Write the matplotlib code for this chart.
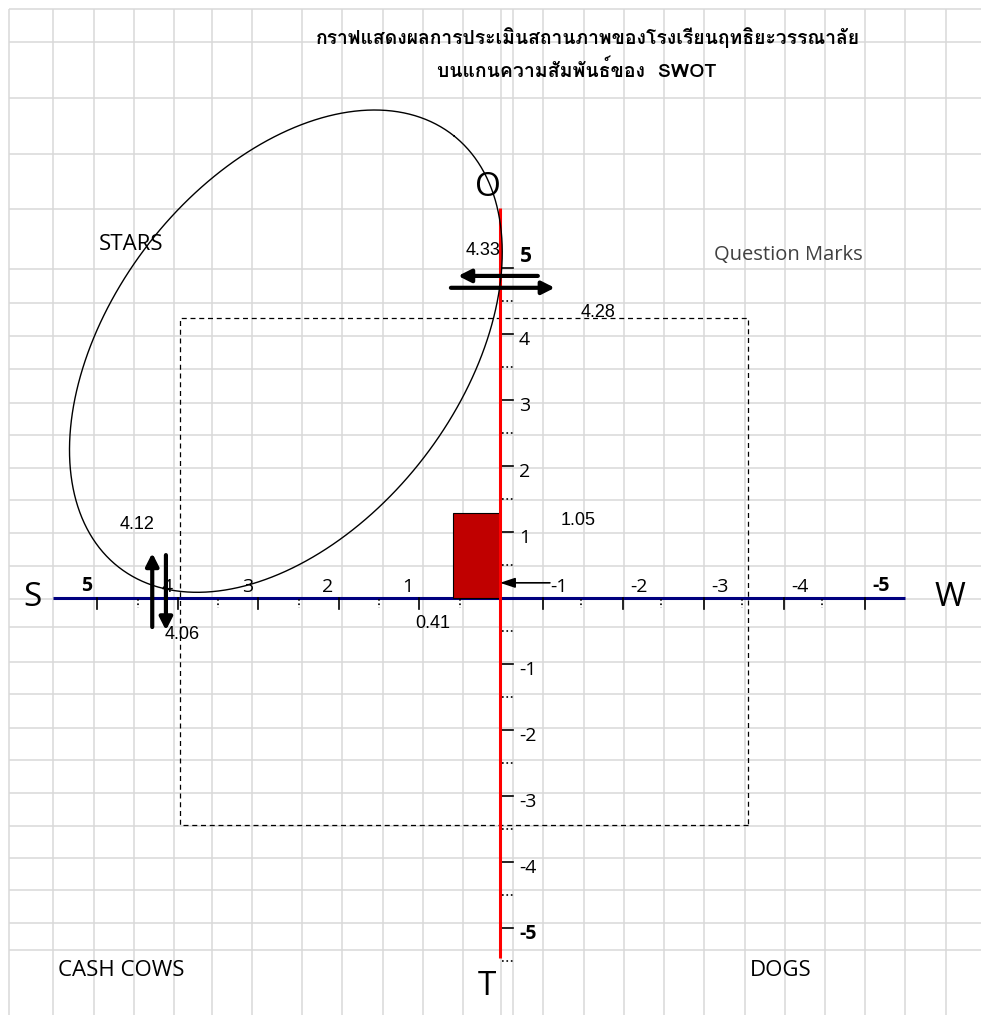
import numpy as np
import matplotlib
matplotlib.use("Agg")
import matplotlib.pyplot as plt
from matplotlib import font_manager
from matplotlib.ft2font import FT2Font
from matplotlib.patches import Rectangle


# ---- ข้อมูล ----

title_lines = [
    "กราฟแสดงผลการประเมินสถานภาพของโรงเรียนฤทธิยะวรรณาลัย",
    "บนแกนความสัมพันธ์ของ  SWOT",
]
quadrant_names = ["STARS", "Question Marks", "CASH COWS", "DOGS"]
axis_names = ["S", "W", "O", "T"]

s_ticks = [5, 4, 3, 2, 1]
w_ticks = [-1, -2, -3, -4, -5]
ot_ticks = [5, 4, 3, 2, 1, -1, -2, -3, -4, -5]
ot_minor = [4.5, 3.5, 2.5, 1.5, 0.5, -0.5, -1.5, -2.5, -3.5, -4.5, -5.5]

# คะแนน
score_labels = ["4.12", "4.06", "4.33", "4.28", "1.05", "0.41"]

# ลูกศรแนวตั้ง (S ขึ้น, W ลง) และแนวนอน (O, T) อ่านจากภาพ
vert_arrow_x = [4.32, 4.15]
vert_arrow_from = [-0.44, 0.65]
vert_arrow_to = [0.68, -0.49]
horiz_arrow_y = [4.88, 4.70]
horiz_arrow_from = [-0.47, 0.61]
horiz_arrow_to = [0.52, -0.68]

# แท่งผลต่าง
bar_width = 0.58
bar_height = 1.29

# กรอบเส้นประ
box_s, box_w = 3.975, -3.08
box_o, box_t = 4.24, -3.44

# วงรี: จุดศูนย์กลาง และเวกเตอร์ครึ่งแกน
ell_center = (2.66, 3.74)
ell_u = (-2.09, 3.26)
ell_v = (1.69, 1.65)


# ---- ฟอนต์ไทย ----

def find_thai_font():
    preferred, others = [], []
    for f in font_manager.fontManager.ttflist:
        try:
            cmap = FT2Font(f.fname).get_charmap()
        except Exception:
            continue
        if 0x0E01 in cmap and 0x0E31 in cmap:
            if any(k in f.name for k in ("Thai", "Sarabun", "Loma", "Garuda", "Tlwg", "Tahoma", "Leelawadee")):
                preferred.append(f.name)
            else:
                others.append(f.name)
    found = preferred + others
    return found[0] if found else "DejaVu Sans"


thai_font = find_thai_font()
thai_family = [thai_font, "DejaVu Sans"]
label_family = ["Open Sans", "DejaVu Sans"]
num_family = ["Liberation Sans", "DejaVu Sans"]


# ---- รูป ----

W, H = 981, 1015
fig = plt.figure(figsize=(W / 100, H / 100), dpi=100)

# พื้นหลังแบบตารางสเปรดชีต
bg = fig.add_axes([0, 0, 1, 1])
bg.set_xlim(0, W)
bg.set_ylim(H, 0)
bg.axis("off")

grid_x = [9, 53, 94, 134, 174, 212, 252, 302, 342, 383, 423, 463, 501, 513,
          543, 584, 624, 664, 704, 745, 785, 825, 865, 905, 946]
grid_y = [9, 42, 98, 154, 209, 269, 303, 336, 369, 403, 435, 468, 500, 533,
          566, 599, 627, 662, 694, 728, 760, 793, 826, 858, 890, 923, 950]
bg.vlines(grid_x, 9, H, color="#d9d9d9", lw=1.1)
bg.hlines(grid_y, 9, W, color="#d9d9d9", lw=1.1)

# เซลล์ที่ผสานกัน / กล่องข้อความ
for (x0, y0, x1, y1) in [(175, 43, 864, 97), (300, 33, 865, 97), (95, 210, 173, 268)]:
    bg.add_patch(Rectangle((x0, y0), x1 - x0, y1 - y0, facecolor="white", edgecolor="none"))

# แกนข้อมูล
px_x, px_y = 80.5, 66.0
x0_px, y0_px = 500, 598
ax = fig.add_axes([0, 0, 1, 1])
ax.patch.set_alpha(0)
ax.set_xlim(x0_px / px_x, (x0_px - W) / px_x)
ax.set_ylim((y0_px - H) / px_y, y0_px / px_y)
ax.axis("off")

# กรอบเส้นประ
ax.add_patch(Rectangle((box_w, box_t), box_s - box_w, box_o - box_t,
                       fill=False, edgecolor="black", lw=0.9, linestyle=(0, (4, 3)), zorder=2))

# แกน S-W และ O-T
ax.plot([5.55, -5.03], [0, 0], color="#00007f", lw=2.2, zorder=3, solid_capstyle="butt")
ax.plot([0, 0], [5.91, -5.46], color="red", lw=2.2, zorder=5, solid_capstyle="butt")

# ขีดแกนนอน
w_shift = 0.47
for k in s_ticks:
    ax.plot([k, k], [0, -0.17], color="black", lw=1.2, zorder=4)
    ax.plot([k - 0.5, k - 0.5], [-0.02, -0.15], color="black", lw=1.2, ls=":", zorder=4)
    ax.text(k + 0.14, 0.03, str(k), ha="center", va="bottom", fontsize=14,
            family=label_family, fontweight="bold" if k == 5 else "normal", zorder=4)
for k in w_ticks:
    pos = k + w_shift
    ax.plot([pos, pos], [0, -0.17], color="black", lw=1.2, zorder=4)
    if k != -5:
        ax.plot([k, k], [-0.02, -0.15], color="black", lw=1.2, ls=":", zorder=4)
    ax.text(pos - 0.2, 0.03, str(k), ha="center", va="bottom", fontsize=14,
            family=label_family, fontweight="bold" if k == -5 else "normal", zorder=4)

# ขีดแกนตั้ง
for k in ot_ticks:
    ax.plot([0, -0.16], [k, k], color="black", lw=1.2, zorder=4)
    if k == 5:
        ax.text(-0.25, k + 0.02, str(k), ha="left", va="bottom", fontsize=15,
                family=label_family, fontweight="bold", zorder=4)
    else:
        ax.text(-0.235, k - 0.09, str(k), ha="left", va="center", fontsize=14,
                family=label_family, fontweight="bold" if k == -5 else "normal", zorder=4)
for k in ot_minor:
    ax.plot([-0.02, -0.16], [k, k], color="black", lw=1.2, ls=":", zorder=4)

# แท่งผลต่าง
ax.bar(0, bar_height, width=bar_width, align="edge", color="#c00000",
       edgecolor="black", lw=0.8, zorder=4)

# วงรี
t = np.linspace(0, 2 * np.pi, 400)
ex = ell_center[0] + ell_u[0] * np.cos(t) + ell_v[0] * np.sin(t)
ey = ell_center[1] + ell_u[1] * np.cos(t) + ell_v[1] * np.sin(t)
ax.plot(ex, ey, color="black", lw=1.0, zorder=6)

# ลูกศรหนา
thick = dict(arrowstyle="-|>,head_length=0.75,head_width=0.38", lw=3, color="black",
             shrinkA=0, shrinkB=0)
for x, y1, y2 in zip(vert_arrow_x, vert_arrow_from, vert_arrow_to):
    ax.annotate("", xy=(x, y2), xytext=(x, y1), arrowprops=thick, zorder=7)
for y, x1, x2 in zip(horiz_arrow_y, horiz_arrow_from, horiz_arrow_to):
    ax.annotate("", xy=(x2, y), xytext=(x1, y), arrowprops=thick, zorder=7)

# ลูกศรเล็กชี้จุดผลต่าง
ax.annotate("", xy=(0, 0.23), xytext=(-0.62, 0.23),
            arrowprops=dict(arrowstyle="-|>,head_length=0.9,head_width=0.3", lw=1.2,
                            color="black", shrinkA=0, shrinkB=0), zorder=7)

# ตัวเลขคะแนน
score_pos = [(4.51, 1.12), (3.95, -0.56), (0.21, 5.27), (-1.22, 4.32), (-0.97, 1.18), (0.83, -0.38)]
for lab, (x, y) in zip(score_labels, score_pos):
    ax.text(x, y, lab, ha="center", va="center", fontsize=13, family=num_family, zorder=8)

# ชื่อจตุภาค
quad_pos = [(4.58, 5.35), (-3.58, 5.20), (4.70, -5.64), (-3.49, -5.64)]
quad_size = [16, 14.5, 16, 16]
quad_color = ["black", "#404040", "black", "black"]
for lab, (x, y), fs, c in zip(quadrant_names, quad_pos, quad_size, quad_color):
    ax.text(x, y, lab, ha="center", va="center", fontsize=fs, color=c, family=label_family, zorder=8)

# ชื่อแกน
name_pos = [(5.81, 0.015), (-5.59, 0.015), (0.15, 6.22), (0.16, -5.89)]
for lab, (x, y) in zip(axis_names, name_pos):
    ax.text(x, y, lab, ha="center", va="center", fontsize=24, family=label_family, zorder=8)

# หัวเรื่อง
fig.text(588 / W, 1 - 38 / H, title_lines[0], ha="center", va="center",
         fontsize=13.9, fontweight="bold", family=thai_family)
fig.text(577 / W, 1 - 70 / H, title_lines[1], ha="center", va="center",
         fontsize=14, fontweight="bold", family=thai_family)

fig.savefig("out.png", dpi=100)
